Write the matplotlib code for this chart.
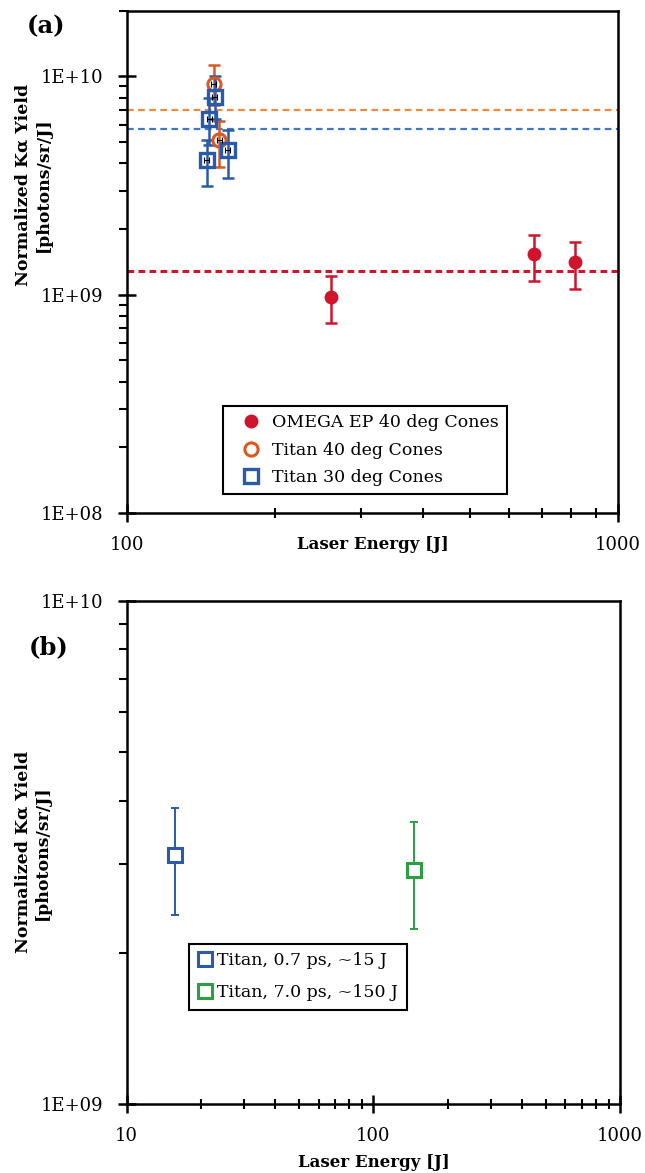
import numpy as np
import matplotlib
matplotlib.use('Agg')   # render to file, no window
import matplotlib.pyplot as plt
from matplotlib.ticker import LogLocator, NullFormatter, FixedLocator, FixedFormatter

plt.rcParams['font.family'] = ['DejaVu Serif']

# ---- panel (a): yield vs laser energy for cone targets ----
omega_energy = [261, 674, 817]
omega_yield = [9.77e8, 1.53e9, 1.41e9]
omega_lo = [7.43e8, 1.15e9, 1.06e9]
omega_hi = [1.215e9, 1.88e9, 1.74e9]

titan40_energy = [150.5, 154.3]
titan40_yield = [9.19e9, 5.09e9]
titan40_lo = [7.4e9, 3.85e9]
titan40_hi = [1.127e10, 6.24e9]

titan30_energy = [151.0, 147.2, 145.4, 160.6]
titan30_yield = [8.04e9, 6.40e9, 4.13e9, 4.58e9]
titan30_lo = [6.4e9, 4.83e9, 3.14e9, 3.44e9]
titan30_hi = [1.003e10, 8.0e9, 5.13e9, 5.66e9]

# mean levels drawn as dashed lines
omega_mean = 1.29e9
titan40_mean = 7.01e9
titan30_mean = 5.76e9

# ---- panel (b): short vs long pulse on Titan ----
short_energy = [15.7]
short_yield = [3.12e9]
short_lo = [2.37e9]
short_hi = [3.88e9]

long_energy = [146.6]
long_yield = [2.92e9]
long_lo = [2.23e9]
long_hi = [3.64e9]

# axis ranges and tick labels
xlim_a = (100, 1000)
ylim_a = (1e8, 2e10)
xticks_a = [100, 1000]
xticklabels_a = ["100", "1000"]
yticks_a = [1e8, 1e9, 1e10]
yticklabels_a = ["1E+08", "1E+09", "1E+10"]

xlim_b = (10, 1000)
ylim_b = (1e9, 1e10)
xticks_b = [10, 100, 1000]
xticklabels_b = ["10", "100", "1000"]
yticks_b = [1e9, 1e10]
yticklabels_b = ["1E+09", "1E+10"]

RED = '#d0142c'
ORANGE = '#d65a22'
ORANGE_LINE = '#ee8a3a'
BLUE = '#2b5ba8'
BLUE_LINE = '#3c78c8'
GREEN = '#2aa040'

YLABEL = "Normalized K\u03b1 Yield\n[photons/sr/J]"


def _asym(vals, lo, hi):
    """Turns lower / upper limits into the (2, N) yerr array errorbar wants."""
    v = np.asarray(vals)
    return np.vstack([v - np.asarray(lo), np.asarray(hi) - v])


def _style_axes(ax, xticks, xlabels, yticks, ylabels):
    ax.set_xscale('log')
    ax.set_yscale('log')
    for sp in ax.spines.values():
        sp.set_linewidth(1.8)
    ax.xaxis.set_major_locator(FixedLocator(xticks))
    ax.xaxis.set_major_formatter(FixedFormatter(xlabels))
    ax.yaxis.set_major_locator(FixedLocator(yticks))
    ax.yaxis.set_major_formatter(FixedFormatter(ylabels))
    ax.xaxis.set_minor_locator(LogLocator(base=10, subs=np.arange(2, 10)))
    ax.yaxis.set_minor_locator(LogLocator(base=10, subs=np.arange(2, 10)))
    ax.xaxis.set_minor_formatter(NullFormatter())
    ax.yaxis.set_minor_formatter(NullFormatter())
    ax.tick_params(axis='x', which='major', direction='inout', length=13, width=1.8,
                   labelsize=13, pad=10)
    ax.tick_params(axis='x', which='minor', direction='inout', length=7, width=1.5)
    ax.tick_params(axis='y', which='major', direction='inout', length=13, width=1.8,
                   labelsize=13, pad=10)
    ax.tick_params(axis='y', which='minor', direction='out', length=6, width=1.5)


fig = plt.figure(figsize=(6.45, 11.73), dpi=100)

# ---------------- (a) ----------------
ax = fig.add_axes([0.1964, 0.5627, 0.762, 0.4282])
_style_axes(ax, xticks_a, xticklabels_a, yticks_a, yticklabels_a)

ax.axhline(omega_mean, color=RED, lw=2.2, ls=(0, (2.2, 1.4)), zorder=1)
ax.axhline(titan40_mean, color=ORANGE_LINE, lw=1.6, ls=(0, (3, 2)), zorder=1)
ax.axhline(titan30_mean, color=BLUE_LINE, lw=1.6, ls=(0, (3, 2)), zorder=1)

ax.errorbar(omega_energy, omega_yield, yerr=_asym(omega_yield, omega_lo, omega_hi),
            fmt='none', ecolor=RED, elinewidth=1.8, capsize=4, capthick=1.8, zorder=3)
ax.errorbar(titan40_energy, titan40_yield, yerr=_asym(titan40_yield, titan40_lo, titan40_hi),
            fmt='none', ecolor=ORANGE, elinewidth=1.8, capsize=4, capthick=1.8, zorder=3)
ax.errorbar(titan30_energy, titan30_yield, yerr=_asym(titan30_yield, titan30_lo, titan30_hi),
            fmt='none', ecolor=BLUE, elinewidth=1.8, capsize=4, capthick=1.8, zorder=3)

ax.plot(omega_energy, omega_yield, 'o', ms=9, color=RED, mec=RED, ls='none',
        label='OMEGA EP 40 deg Cones', zorder=5)
ax.plot(titan40_energy, titan40_yield, 'o', ms=9.5, mfc='none', mec=ORANGE, mew=2.2,
        ls='none', label='Titan 40 deg Cones', zorder=5)
ax.plot(titan30_energy, titan30_yield, 's', ms=10, mfc='none', mec=BLUE, mew=2.4,
        ls='none', label='Titan 30 deg Cones', zorder=6)

# tiny black energy bars sitting inside the Titan markers
t_e = np.array(titan40_energy + titan30_energy)
t_y = np.array(titan40_yield + titan30_yield)
ax.errorbar(t_e, t_y, xerr=0.012 * t_e, fmt='none', ecolor='black',
            elinewidth=0.8, capsize=2, capthick=0.8, zorder=7)

ax.set_xlim(*xlim_a)
ax.set_ylim(*ylim_a)

leg = ax.legend(loc='lower left', bbox_to_anchor=(0.196, 0.038), fontsize=12.5,
                frameon=True, fancybox=False, edgecolor='black', framealpha=1,
                handlelength=2.3, handletextpad=0.1, labelspacing=0.6,
                borderpad=0.45, borderaxespad=0)
leg.get_frame().set_linewidth(1.5)

ax.set_xlabel("Laser Energy [J]", fontsize=12, fontweight='bold', va='center')
ax.xaxis.set_label_coords(0.5, -0.0637)
ax.set_ylabel(YLABEL, fontsize=12.5, fontweight='bold', ha='center', va='center')
ax.yaxis.set_label_coords(-0.19, 0.653)
fig.text(46 / 645, 1 - 26 / 1173, "(a)", fontsize=17.5, fontweight='bold',
         ha='center', va='center')

# ---------------- (b) ----------------
bx = fig.add_axes([0.1964, 0.0588, 0.765, 0.4291])
_style_axes(bx, xticks_b, xticklabels_b, yticks_b, yticklabels_b)

bx.errorbar(short_energy, short_yield, yerr=_asym(short_yield, short_lo, short_hi),
            fmt='none', ecolor=BLUE, elinewidth=1.4, capsize=3, capthick=1.4, zorder=3)
bx.errorbar(long_energy, long_yield, yerr=_asym(long_yield, long_lo, long_hi),
            fmt='none', ecolor=GREEN, elinewidth=1.4, capsize=3, capthick=1.4, zorder=3)
bx.plot(short_energy, short_yield, 's', ms=10, mfc='white', mec=BLUE, mew=2.2,
        ls='none', label='Titan, 0.7 ps, ~15 J', zorder=5)
bx.plot(long_energy, long_yield, 's', ms=10, mfc='white', mec=GREEN, mew=2.2,
        ls='none', label='Titan, 7.0 ps, ~150 J', zorder=5)

bx.set_xlim(*xlim_b)
bx.set_ylim(*ylim_b)

leg = bx.legend(loc='lower left', bbox_to_anchor=(0.127, 0.187), fontsize=12.5,
                frameon=True, fancybox=False, edgecolor='black', framealpha=1,
                handlelength=0.8, handletextpad=0.3, labelspacing=0.85,
                borderpad=0.5, borderaxespad=0)
leg.get_frame().set_linewidth(1.5)

bx.set_xlabel("Laser Energy [J]", fontsize=12, fontweight='bold', va='center')
bx.xaxis.set_label_coords(0.5, -0.117)
bx.set_ylabel(YLABEL, fontsize=12.5, fontweight='bold', ha='center', va='center')
bx.yaxis.set_label_coords(-0.19, 0.5)
fig.text(49 / 645, 1 - 647 / 1173, "(b)", fontsize=17.5, fontweight='bold',
         ha='center', va='center')

fig.savefig("out.png", dpi=100)
